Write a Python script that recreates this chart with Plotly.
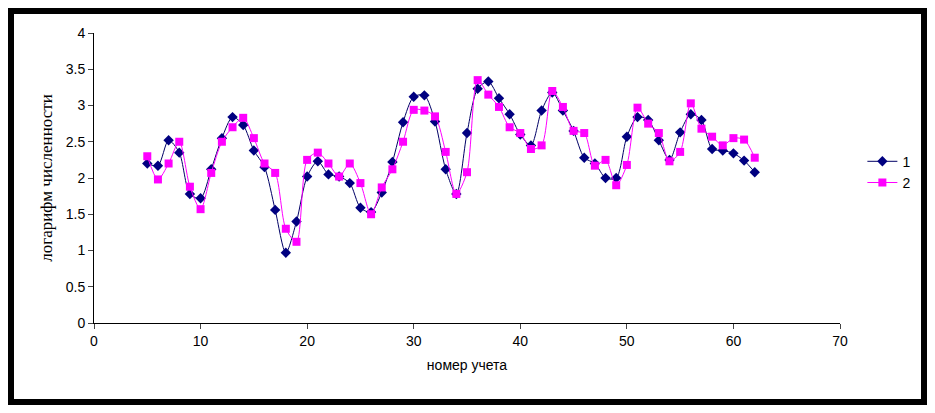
import plotly.graph_objects as go

x = list(range(5, 63))
s1 = [2.2, 2.17, 2.52, 2.35, 1.78, 1.72, 2.12, 2.55, 2.84, 2.73, 2.38, 2.15, 1.56, 0.97, 1.4, 2.02,
      2.23, 2.05, 2.02, 1.93, 1.59, 1.53, 1.8, 2.22, 2.77, 3.12, 3.14, 2.78, 2.12, 1.78, 2.62, 3.23,
      3.33, 3.1, 2.88, 2.6, 2.45, 2.93, 3.18, 2.93, 2.65, 2.28, 2.2, 2.0, 2.0, 2.57, 2.84, 2.8,
      2.52, 2.25, 2.63, 2.88, 2.8, 2.4, 2.38, 2.34, 2.24, 2.08]
s2 = [2.3, 1.98, 2.2, 2.5, 1.88, 1.57, 2.07, 2.5, 2.7, 2.83, 2.55, 2.2, 2.07, 1.3, 1.12, 2.25,
      2.35, 2.2, 2.02, 2.2, 1.93, 1.5, 1.87, 2.12, 2.5, 2.94, 2.93, 2.85, 2.36, 1.78, 2.08, 3.35,
      3.15, 2.98, 2.7, 2.62, 2.4, 2.45, 3.2, 2.98, 2.65, 2.62, 2.17, 2.25, 1.9, 2.18, 2.97, 2.75,
      2.62, 2.23, 2.36, 3.03, 2.68, 2.57, 2.45, 2.55, 2.53, 2.28]

W, H = 919, 397
L, R, T, B = 86, 87, 25, 82

fig = go.Figure()
fig.add_trace(go.Scatter(x=x, y=s1, name="1", mode="lines+markers",
                         line=dict(color="#000066", width=1, shape="spline", smoothing=0.8),
                         marker=dict(symbol="diamond", size=8, color="#000080")))
fig.add_trace(go.Scatter(x=x, y=s2, name="2", mode="lines+markers",
                         line=dict(color="#FF00FF", width=1, shape="spline", smoothing=0.8),
                         marker=dict(symbol="square", size=8, color="#FF00FF")))

pw, ph = W - L - R, H - T - B
fig.add_shape(type="rect", xref="paper", yref="paper",
              x0=-L / pw + 3 / pw, x1=1 + R / pw - 3 / pw,
              y0=-B / ph + 3 / ph, y1=1 + T / ph - 3 / ph,
              line=dict(color="black", width=6), layer="above")

fig.update_layout(
    width=W, height=H, margin=dict(l=L, r=R, t=T, b=B),
    paper_bgcolor="white", plot_bgcolor="white",
    font=dict(family="Liberation Sans, Arial", size=14, color="black"),
    xaxis=dict(range=[0, 70], dtick=10, showgrid=False, zeroline=False,
               showline=True, linecolor="black", ticks="outside", ticklen=5,
               title=dict(text="номер учета", font=dict(size=14), standoff=12)),
    yaxis=dict(range=[0, 4], dtick=0.5, showgrid=False, zeroline=False,
               showline=True, linecolor="black", ticks="outside", ticklen=5,
               title=dict(text="логарифм численности",
                          font=dict(family="Liberation Serif, Times New Roman", size=17),
                          standoff=8)),
    legend=dict(x=1.03, y=0.52, xanchor="left", yanchor="middle",
                font=dict(size=14), bgcolor="rgba(0,0,0,0)"),
    showlegend=True,
)
fig.write_html("out.html")
